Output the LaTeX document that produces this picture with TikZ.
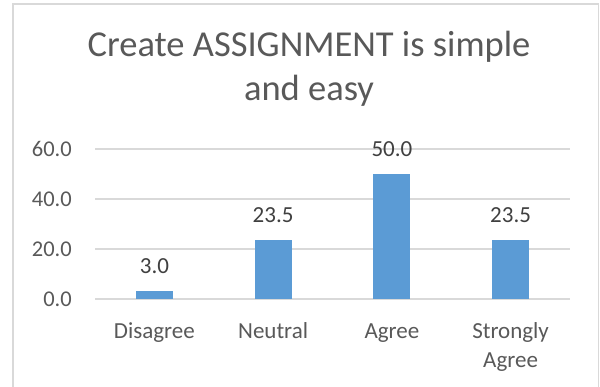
\documentclass[tikz,border=0pt]{standalone}
\usepackage{fontspec}
\setmainfont{Carlito}
\definecolor{gridc}{HTML}{D9D9D9}
\definecolor{borderc}{HTML}{D9D9D9}
\definecolor{barc}{HTML}{5B9BD5}
\definecolor{axtext}{HTML}{595959}
\definecolor{dltext}{HTML}{404040}
\begin{document}
\begin{tikzpicture}[x=1pt,y=-1pt,
  gridline/.style={draw=gridc,line width=1.2pt},
  barbox/.style={fill=barc,draw=none},
  ticklabel/.style={anchor=base east,inner sep=0pt,text=axtext,font=\fontsize{22.5}{27}\selectfont},
  catlabel/.style={anchor=base,inner sep=0pt,text=axtext,font=\fontsize{23}{28}\selectfont},
  datalabel/.style={anchor=base,inner sep=0pt,text=dltext,font=\fontsize{23}{28}\selectfont},
  titlelabel/.style={anchor=base,inner sep=0pt,text=axtext,font=\fontsize{36.5}{44}\selectfont}]
\useasboundingbox (0,0) rectangle (600,387);
\fill[white] (0,0) rectangle (600,387);
% chart border
\draw[draw=borderc,line width=1.5pt] (13,400) -- (13,4) -- (598.5,4) -- (598.5,400);
% title
\node[titlelabel] (t1) at (309,56.7) {Create ASSIGNMENT is simple};
\node[titlelabel] (t2) at (309,101) {and easy};
% gridlines and tick labels
\foreach \v/\lab in {0/0.0,20/20.0,40/40.0,60/60.0}{
  \coordinate (gl\v) at (95,{299-2.5*\v});
  \coordinate (gr\v) at (570,{299-2.5*\v});
  \draw[gridline] (gl\v) -- (gr\v);
  \node[ticklabel] (tick\v) at (72,{299-2.5*\v+7.7}) {\lab};
}
% bars
\foreach \i/\c/\v/\lab in {1/154.4/3.0/3.0,2/273.1/23.5/23.5,3/391.9/50.0/50.0,4/510.6/23.5/23.5}{
  \fill[barc] ({\c-18.5},299) rectangle ({\c+18.5},{299-2.5*\v});
  \node[datalabel] (dl\i) at (\c,{299-2.5*\v-17.8}) {\lab};
}
% category labels
\node[catlabel] (c1) at (154.4,338.5) {Disagree};
\node[catlabel] (c2) at (273.1,338.5) {Neutral};
\node[catlabel] (c3) at (391.9,338.5) {Agree};
\node[catlabel] (c4a) at (510.6,338.5) {Strongly};
\node[catlabel] (c4b) at (510.6,367) {Agree};
\end{tikzpicture}
\end{document}
